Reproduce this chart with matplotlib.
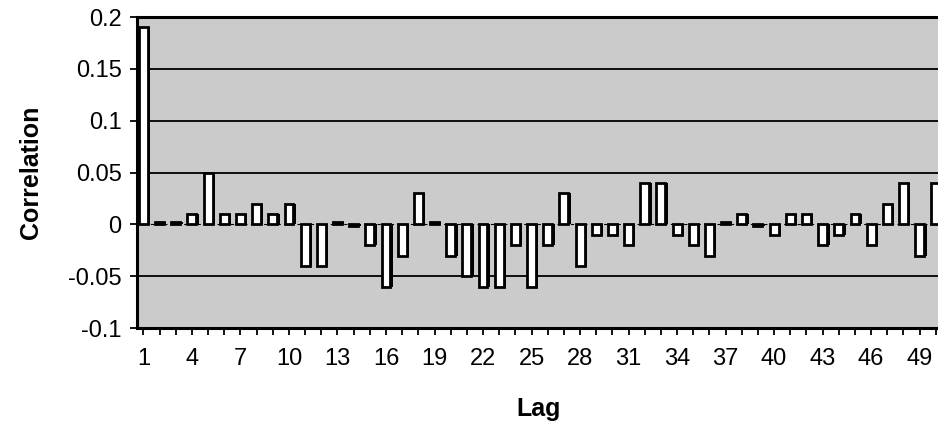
import numpy as np
import matplotlib.pyplot as plt

plt.rcParams['font.family'] = ['Liberation Sans', 'DejaVu Sans']

lags = np.arange(1, 51)
corr = [0.19, 0.002, 0.002, 0.01, 0.05, 0.01, 0.01, 0.02, 0.01, 0.02,
        -0.04, -0.04, 0.002, -0.002, -0.02, -0.06, -0.03, 0.03, 0.002, -0.03,
        -0.05, -0.06, -0.06, -0.02, -0.06, -0.02, 0.03, -0.04, -0.01, -0.01,
        -0.02, 0.04, 0.04, -0.01, -0.02, -0.03, 0.002, 0.01, -0.002, -0.01,
        0.01, 0.01, -0.02, -0.01, 0.01, -0.02, 0.02, 0.04, -0.03, 0.04]
yticks = [-0.1, -0.05, 0, 0.05, 0.1, 0.15, 0.2]
ytick_labels = ['-0.1', '-0.05', '0', '0.05', '0.1', '0.15', '0.2']

fig = plt.figure(figsize=(9.38, 4.25), dpi=100)
ax = fig.add_axes([0.146, 0.228, 0.856, 0.732])
ax.set_facecolor('#cbcbcb')

for y in [-0.05, 0.05, 0.1, 0.15]:
    ax.axhline(y, color='black', lw=1.3, zorder=1)
ax.axhline(0, color='black', lw=0.8, ls=(0, (3, 3)), zorder=1)

# depth strip behind each bar, then the face
ax.bar(lags + 0.15, corr, width=0.55, color='black', zorder=2)
ax.bar(lags, corr, width=0.55, color='white', edgecolor='black', lw=2, zorder=3)

ax.set_xlim(0.6, 50.25)
ax.set_ylim(-0.1, 0.2)
ax.set_xticks(lags)
ax.set_xticklabels([str(l) if (l - 1) % 3 == 0 else '' for l in lags])
ax.set_yticks(yticks)
ax.set_yticklabels(ytick_labels)
ax.tick_params(axis='both', labelsize=17, direction='out', length=5, width=1.3)
ax.tick_params(axis='x', pad=9)
ax.tick_params(axis='y', pad=6)

for s in ['left', 'bottom', 'top']:
    ax.spines[s].set_linewidth(2.2)
ax.spines['right'].set_visible(False)

ax.set_xlabel('Lag', fontsize=18, fontweight='bold', labelpad=20)
ax.set_ylabel('Correlation', fontsize=18, fontweight='bold', labelpad=18)

fig.savefig('out.png', dpi=100)
